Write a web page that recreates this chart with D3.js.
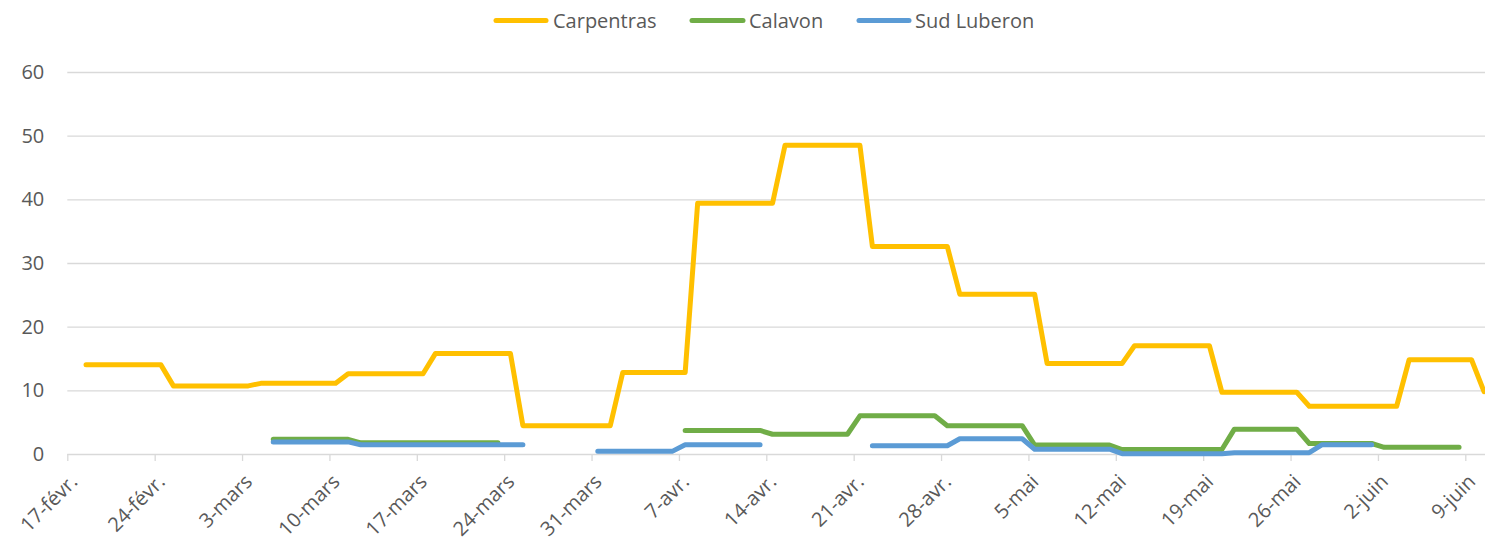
<!DOCTYPE html>
<html>
<head>
<meta charset="utf-8">
<script src="https://cdn.jsdelivr.net/npm/d3@7"></script>
<style>
  html, body { margin: 0; padding: 0; background: #fff; }
  svg { display: block; font-family: "Open Sans", "DejaVu Sans", sans-serif; }
</style>
</head>
<body>
<svg id="chart" width="1485" height="541"></svg>
<script>
// ---------- DATA ----------
// Each series: list of [first day, last day, value] periods (year 2021).
const seriesNames = ["Carpentras", "Calavon", "Sud Luberon"];
const seriesColors = ["#FFC000", "#70AD47", "#5B9BD5"];

const carpentras = [
  ["2021-02-18", "2021-02-24", 14.0],
  ["2021-02-25", "2021-03-03", 10.7],
  ["2021-03-04", "2021-03-10", 11.1],
  ["2021-03-11", "2021-03-17", 12.6],
  ["2021-03-18", "2021-03-24", 15.8],
  ["2021-03-25", "2021-04-01", 4.45],
  ["2021-04-02", "2021-04-07", 12.8],
  ["2021-04-08", "2021-04-14", 39.4],
  ["2021-04-15", "2021-04-21", 48.5],
  ["2021-04-22", "2021-04-28", 32.6],
  ["2021-04-29", "2021-05-05", 25.1],
  ["2021-05-06", "2021-05-12", 14.2],
  ["2021-05-13", "2021-05-19", 17.0],
  ["2021-05-20", "2021-05-26", 9.7],
  ["2021-05-27", "2021-06-03", 7.5],
  ["2021-06-04", "2021-06-09", 14.8],
  ["2021-06-10", "2021-06-10", 9.8]
];

const calavon = [
  ["2021-03-05", "2021-03-11", 2.3],
  ["2021-03-12", "2021-03-23", 1.75],
  ["2021-04-07", "2021-04-13", 3.7],
  ["2021-04-14", "2021-04-20", 3.1],
  ["2021-04-21", "2021-04-27", 6.0],
  ["2021-04-28", "2021-05-04", 4.45],
  ["2021-05-05", "2021-05-11", 1.4],
  ["2021-05-12", "2021-05-20", 0.7],
  ["2021-05-21", "2021-05-26", 3.9],
  ["2021-05-27", "2021-06-01", 1.65],
  ["2021-06-02", "2021-06-08", 1.05]
];

const sudLuberon = [
  ["2021-03-05", "2021-03-11", 1.9],
  ["2021-03-12", "2021-03-25", 1.45],
  ["2021-03-31", "2021-04-06", 0.45],
  ["2021-04-07", "2021-04-13", 1.45],
  ["2021-04-22", "2021-04-28", 1.3],
  ["2021-04-29", "2021-05-04", 2.4],
  ["2021-05-05", "2021-05-11", 0.75],
  ["2021-05-12", "2021-05-20", 0.05],
  ["2021-05-21", "2021-05-27", 0.2],
  ["2021-05-28", "2021-06-01", 1.45]
];

const xTickLabels = ["17-févr.", "24-févr.", "3-mars", "10-mars", "17-mars", "24-mars",
  "31-mars", "7-avr.", "14-avr.", "21-avr.", "28-avr.", "5-mai", "12-mai", "19-mai",
  "26-mai", "2-juin", "9-juin"];
const yTicks = [0, 10, 20, 30, 40, 50, 60];

// ---------- CHART ----------
const W = 1485, H = 541;
const svg = d3.select("#chart");
const parse = d3.utcParse("%Y-%m-%d");
const start = parse("2021-02-17"), end = parse("2021-06-09");
const left = 67.3, right = 1465.3, plotRight = 1485;

const x = d3.scaleUtc().domain([start, end]).range([left, right]);
const y = d3.scaleLinear().domain([0, 60]).range([454, 72]);

// gridlines + y labels
const yAxis = d3.axisLeft(y).tickValues(yTicks).tickSize(-(plotRight - left)).tickPadding(23);
const gy = svg.append("g").attr("transform", `translate(${left},0)`).call(yAxis);
gy.select(".domain").remove();
gy.selectAll(".tick line").attr("stroke", "#d9d9d9").attr("stroke-width", 1.3);
gy.selectAll(".tick text").attr("fill", "#595959").style("font-size", "20px")
  .style("font-family", "'Open Sans', sans-serif");

// x axis
const tickDates = xTickLabels.map((_, i) => d3.utcDay.offset(start, 7 * i));
const xAxis = d3.axisBottom(x).tickValues(tickDates).tickSizeInner(7).tickSizeOuter(0)
  .tickFormat((d, i) => xTickLabels[i]);
const gx = svg.append("g").attr("transform", `translate(0,${y(0)})`).call(xAxis);
gx.select(".domain").remove();
gx.selectAll(".tick line").attr("stroke", "#d9d9d9").attr("stroke-width", 1.3);
gx.selectAll(".tick text")
  .attr("fill", "#595959").style("font-size", "20px")
  .style("font-family", "'Open Sans', sans-serif")
  .attr("text-anchor", "end")
  .attr("x", 0).attr("y", 0).attr("dy", "0.35em")
  .attr("transform", "translate(6,24) rotate(-45)");

// lines
const noon = d => d3.utcHour.offset(parse(d), 12);
function toRuns(periods) {
  const runs = [];
  let cur = null, prevEnd = null;
  periods.forEach(([s, e, v]) => {
    const sd = parse(s);
    if (!cur || +d3.utcDay.offset(prevEnd, 1) !== +sd) { cur = []; runs.push(cur); }
    cur.push({ date: noon(s), value: v });
    cur.push({ date: noon(e), value: v });
    prevEnd = parse(e);
  });
  return runs;
}
const line = d3.line().x(d => x(d.date)).y(d => y(d.value));
const allSeries = [carpentras, calavon, sudLuberon];

svg.append("defs").append("clipPath").attr("id", "clip")
  .append("rect").attr("x", 0).attr("y", 0).attr("width", W).attr("height", H);

const gl = svg.append("g").attr("clip-path", "url(#clip)");
allSeries.forEach((s, i) => {
  gl.selectAll(null).data(toRuns(s)).enter().append("path")
    .attr("d", line)
    .attr("fill", "none")
    .attr("stroke", seriesColors[i])
    .attr("stroke-width", 5)
    .attr("stroke-linejoin", "round")
    .attr("stroke-linecap", "round");
});

// legend
const legendItems = [
  { x1: 496, x2: 546, tx: 553 },
  { x1: 692, x2: 743, tx: 749 },
  { x1: 859, x2: 909, tx: 915 }
];
const lg = svg.append("g");
legendItems.forEach((it, i) => {
  lg.append("line").attr("x1", it.x1).attr("x2", it.x2).attr("y1", 20.5).attr("y2", 20.5)
    .attr("stroke", seriesColors[i]).attr("stroke-width", 5).attr("stroke-linecap", "round");
  lg.append("text").attr("x", it.tx).attr("y", 20.5).attr("dy", "0.35em")
    .attr("fill", "#595959").style("font-size", "20px")
    .style("font-family", "'Open Sans', sans-serif")
    .text(seriesNames[i]);
});
</script>
</body>
</html>
